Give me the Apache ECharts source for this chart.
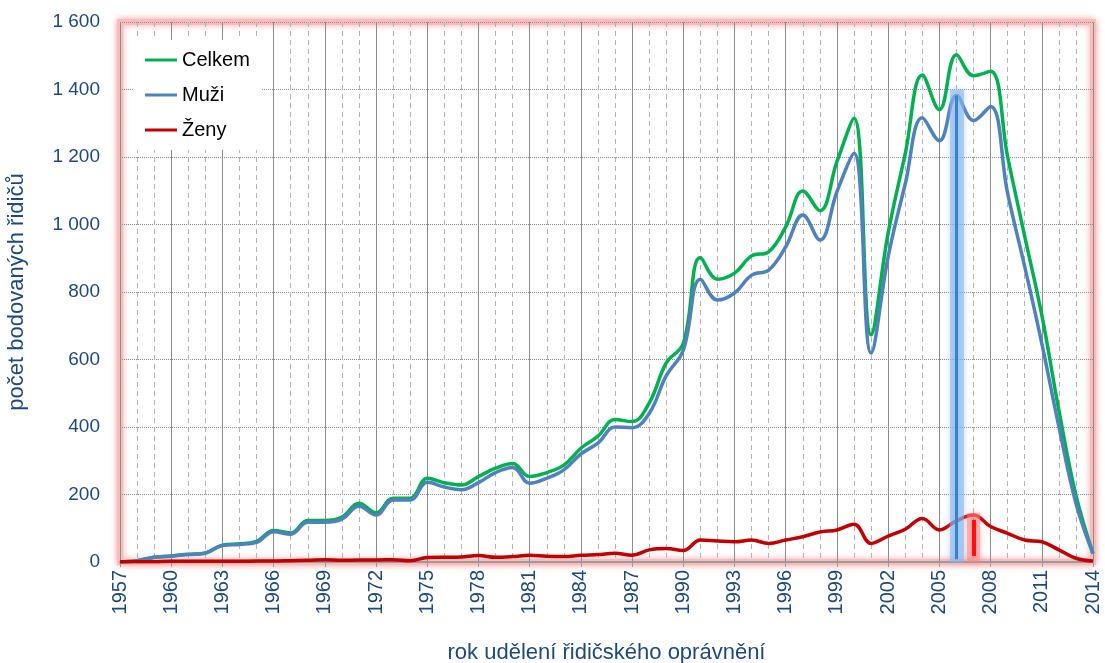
<!DOCTYPE html>
<html>
<head>
<meta charset="utf-8">
<script src="https://cdn.jsdelivr.net/npm/echarts@6/dist/echarts.min.js"></script>
<style>
html, body { margin: 0; padding: 0; background: #fff; }
#chart { width: 1105px; height: 663px; }
</style>
</head>
<body>
<div id="chart"></div>
<script>
// roky udělení oprávnění
var years = ['1957','1958','1959','1960','1961','1962','1963','1964','1965','1966',
    '1967','1968','1969','1970','1971','1972','1973','1974','1975','1976',
    '1977','1978','1979','1980','1981','1982','1983','1984','1985','1986',
    '1987','1988','1989','1990','1991','1992','1993','1994','1995','1996',
    '1997','1998','1999','2000','2001','2002','2003','2004','2005','2006',
    '2007','2008','2009','2010','2011','2012','2013','2014'];

var celkem = [0, 4, 14, 18, 23, 27, 50, 54, 61, 93,
    86, 123, 123, 133, 174, 146, 189, 189, 248, 235,
    228, 253, 278, 292, 253, 265, 287, 337, 373, 422,
    416, 471, 590, 648, 902, 838, 856, 907, 919, 993,
    1099, 1041, 1186, 1315, 673, 975, 1210, 1443, 1340, 1503,
    1441, 1454, 1200, 965, 732, 450, 198, 25];

var muzi = [0, 4, 14, 17, 22, 26, 49, 52, 58, 90,
    82, 118, 118, 127, 165, 139, 184, 184, 236, 222,
    214, 235, 265, 280, 233, 248, 273, 320, 352, 400,
    398, 440, 552, 628, 838, 776, 797, 850, 865, 934,
    1028, 954, 1097, 1211, 619, 905, 1120, 1316, 1248, 1382,
    1308, 1350, 1092, 875, 648, 401, 174, 25];

var zeny = [1, 1, 1, 2, 2, 2, 2, 2, 3, 3,
    4, 5, 7, 5, 6, 6, 7, 4, 13, 14,
    15, 19, 14, 16, 20, 17, 16, 20, 22, 26,
    20, 36, 40, 34, 65, 62, 60, 65, 55, 65,
    75, 89, 95, 112, 55, 77, 97, 129, 95, 122,
    139, 105, 85, 65, 60, 36, 11, 3];

var yTicks = { min: 0, max: 1600, step: 200 };

var textBlue = '#1f497d';
var myChart = echarts.init(document.getElementById('chart'));

function fmt(v) {
    return String(v).replace(/\B(?=(\d{3})+(?!\d))/g, ' ');
}

var option = {
    animation: false,
    textStyle: { fontFamily: 'Liberation Sans, Arial, sans-serif' },
    grid: {
        left: 120, right: 12, top: 22, bottom: 101,
        outerBoundsMode: 'none',
        show: true,
        backgroundColor: '#fff',
        borderColor: '#f9bcbc',
        borderWidth: 6,
        shadowColor: 'rgba(245,130,130,0.7)',
        shadowBlur: 6
    },
    legend: {
        left: 133, top: 40,
        orient: 'vertical',
        backgroundColor: '#fff',
        padding: [10, 12, 10, 12],
        icon: 'rect',
        itemWidth: 32, itemHeight: 3,
        itemGap: 15,
        textStyle: { fontSize: 20, color: '#000' },
        data: ['Celkem', 'Muži', 'Ženy']
    },
    xAxis: [
        {
            // tenké čárkované čáry pro každý rok
            type: 'category', data: years, boundaryGap: false,
            axisLine: { show: false }, axisTick: { show: false }, axisLabel: { show: false },
            splitLine: { show: true, interval: 0, lineStyle: { color: '#b4b4b4', type: [5, 4], width: 1 } }
        },
        {
            type: 'category', data: years, boundaryGap: false, position: 'bottom',
            axisLine: { lineStyle: { color: '#9a9a9a', width: 2 } },
            axisTick: { show: true, interval: 2, length: 5, lineStyle: { color: '#9a9a9a' } },
            axisLabel: { interval: 2, rotate: 90, fontSize: 20, color: textBlue, margin: 8 },
            splitLine: { show: true, interval: 2, lineStyle: { color: '#8c8c8c', width: 1 } },
            name: 'rok udělení řidičského oprávnění',
            nameLocation: 'middle', nameGap: 80,
            nameTextStyle: { fontSize: 22, color: textBlue }
        }
    ],
    yAxis: {
        type: 'value', min: yTicks.min, max: yTicks.max, interval: yTicks.step,
        axisLine: { show: false }, axisTick: { show: false },
        axisLabel: { fontSize: 19, color: textBlue, margin: 20, formatter: fmt },
        splitLine: { lineStyle: { color: '#8a8a8a', type: 'dotted', width: 1 } },
        name: 'počet bodovaných řidičů',
        nameLocation: 'middle', nameGap: 92, nameRotate: 90,
        nameTextStyle: { fontSize: 22, color: textBlue }
    },
    series: [
        {
            name: 'Celkem', type: 'line', xAxisIndex: 1, data: celkem,
            smooth: 0.4, symbol: 'none',
            lineStyle: { color: '#00b050', width: 3.5 }, itemStyle: { color: '#00b050' }
        },
        {
            name: 'Muži', type: 'line', xAxisIndex: 1, data: muzi,
            smooth: 0.4, symbol: 'none',
            lineStyle: { color: '#4f81bd', width: 3.5 }, itemStyle: { color: '#4f81bd' },
            markLine: {
                silent: true, symbol: 'none', label: { show: false },
                data: [
                    [{ coord: ['2006', 1400], lineStyle: { color: 'rgba(130,180,235,0.55)', width: 14, type: 'solid', shadowBlur: 6, shadowColor: 'rgba(130,180,235,0.9)' } },
                     { coord: ['2006', 0] }],
                    [{ coord: ['2006', 1382], lineStyle: { color: '#3a80d0', width: 3, type: 'solid' } },
                     { coord: ['2006', 8] }]
                ]
            }
        },
        {
            name: 'Ženy', type: 'line', xAxisIndex: 1, data: zeny,
            smooth: 0.4, symbol: 'none',
            lineStyle: { color: '#c00000', width: 3.5 }, itemStyle: { color: '#c00000' },
            markLine: {
                silent: true, symbol: 'none', label: { show: false },
                data: [
                    [{ coord: ['2007', 145], lineStyle: { color: 'rgba(255,130,130,0.5)', width: 13, type: 'solid', shadowBlur: 6, shadowColor: 'rgba(255,120,120,0.9)' } },
                     { coord: ['2007', 0] }],
                    [{ coord: ['2007', 125], lineStyle: { color: '#ff1010', width: 4, type: 'solid' } },
                     { coord: ['2007', 18] }]
                ]
            }
        }
    ]
};

myChart.setOption(option);
</script>
</body>
</html>
